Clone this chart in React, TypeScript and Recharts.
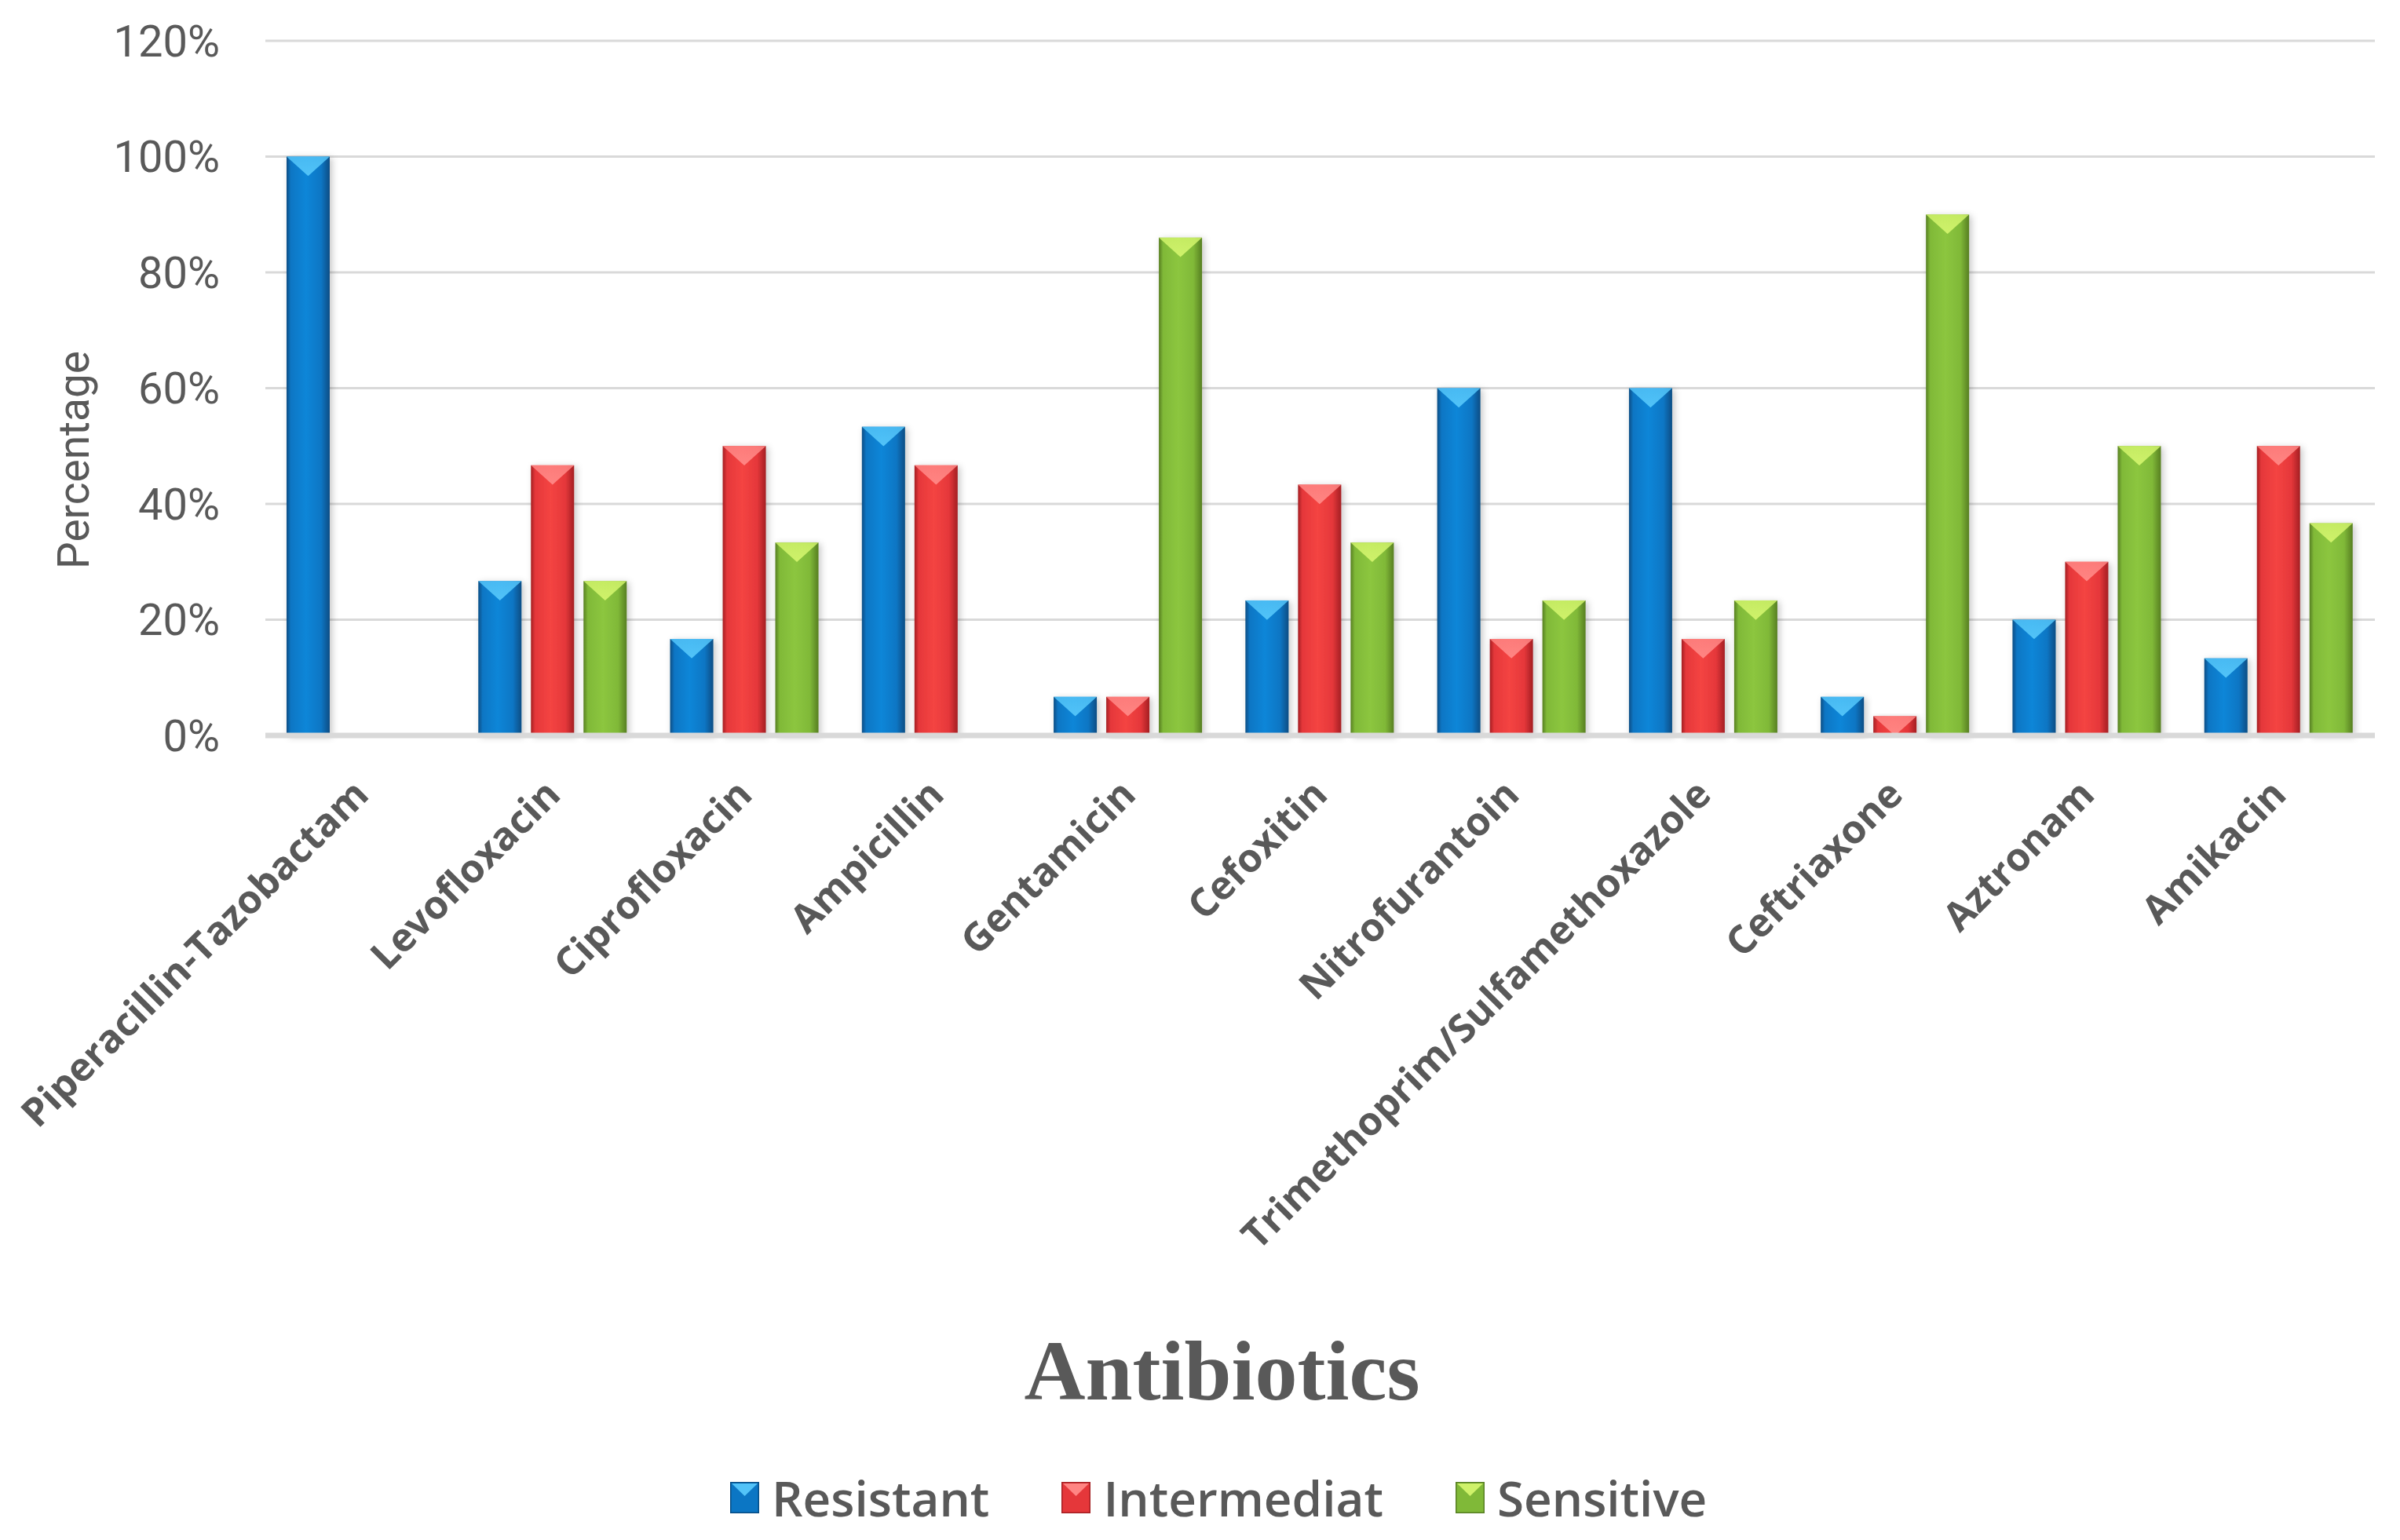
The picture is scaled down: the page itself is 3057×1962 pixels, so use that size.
import { Bar, BarChart, CartesianGrid, Legend, XAxis, YAxis } from "recharts";

const antibiotics = [
  "Piperacillin-Tazobactam",
  "Levofloxacin",
  "Ciprofloxacin",
  "Ampicillin",
  "Gentamicin",
  "Cefoxitin",
  "Nitrofurantoin",
  "Trimethoprim/Sulfamethoxazole",
  "Ceftriaxone",
  "Aztronam",
  "Amikacin",
];
const resistant = [100, 26.67, 16.67, 53.33, 6.67, 23.33, 60, 60, 6.67, 20, 13.33];
const intermediate = [0, 46.67, 50, 46.67, 6.67, 43.33, 16.67, 16.67, 3.33, 30, 50];
const sensitive = [0, 26.67, 33.33, 0, 86, 33.33, 23.33, 23.33, 90, 50, 36.67];
const yTicks = [0, 20, 40, 60, 80, 100, 120];
const seriesNames = ["Resistant", "Intermediat", "Sensitive"];

const data = antibiotics.map((name, i) => ({
  name,
  resistant: resistant[i],
  intermediate: intermediate[i],
  sensitive: sensitive[i],
}));

const palette = {
  blue: { dark: "#074d84", base: "#0b76c4", light: "#0a86d8", tri: "#52c3f8" },
  red: { dark: "#a41f23", base: "#e5373a", light: "#f44442", tri: "#ff8583" },
  green: { dark: "#577f22", base: "#80b938", light: "#8cc63f", tri: "#cff26a" },
};
type Tone = keyof typeof palette;
const tones: Tone[] = ["blue", "red", "green"];

const grey = "#595959";
const axisFont = "Roboto, 'Liberation Sans', sans-serif";

function makeShape(tone: Tone) {
  return (props: any) => {
    const { x, y, width, height } = props;
    if (!height || height <= 0) return <g />;
    const depth = width * 0.45;
    const d = Math.min(depth, height);
    const inset = (width / 2) * (d / depth);
    const tri =
      d < depth
        ? `${x},${y} ${x + width},${y} ${x + width - inset},${y + d} ${x + inset},${y + d}`
        : `${x},${y} ${x + width},${y} ${x + width / 2},${y + d}`;
    return (
      <g filter="url(#barShadow)">
        <rect x={x} y={y} width={width} height={height} fill={`url(#body-${tone})`} />
        <polygon points={tri} fill={`url(#tri-${tone})`} />
      </g>
    );
  };
}

function CategoryTick({ x, y, payload }: any) {
  const ax = x + 12;
  const ay = y + 78;
  return (
    <text
      x={ax}
      y={ay}
      transform={`rotate(-45, ${ax}, ${ay})`}
      textAnchor="end"
      fontFamily="'Open Sans', sans-serif"
      fontWeight={700}
      fontSize={50}
      fill={grey}
    >
      {payload.value}
    </text>
  );
}

function TitleLabel({ viewBox }: any) {
  const cx = viewBox.x + viewBox.width / 2 - 125;
  return (
    <text
      x={cx}
      y={1783}
      textAnchor="middle"
      fontFamily="'Liberation Serif', serif"
      fontWeight={700}
      fontSize={108}
      fill={grey}
    >
      Antibiotics
    </text>
  );
}

function PercentLabel() {
  return (
    <text
      x={113}
      y={586}
      transform="rotate(-90, 113, 586)"
      textAnchor="middle"
      fontFamily={axisFont}
      fontSize={55}
      fill={grey}
    >
      Percentage
    </text>
  );
}

function LegendContent() {
  return (
    <div
      style={{
        display: "flex",
        alignItems: "center",
        fontFamily: "'Open Sans', sans-serif",
        fontWeight: 600,
        fontSize: 62,
        color: grey,
        whiteSpace: "nowrap",
      }}
    >
      {seriesNames.map((name, i) => {
        const p = palette[tones[i]];
        return (
          <div key={name} style={{ display: "flex", alignItems: "center", marginRight: 92 }}>
            <svg width={37} height={40}>
              <rect x={0} y={0} width={37} height={40} fill={p.base} stroke={p.dark} strokeWidth={3} />
              <polygon points="2,2 35,2 18.5,18" fill={p.tri} />
            </svg>
            <span style={{ marginLeft: 16 }}>{name}</span>
          </div>
        );
      })}
    </div>
  );
}

export default function App() {
  return (
    <div style={{ position: "absolute", left: 0, top: 0, width: 3057, height: 1962, background: "#fff" }}>
      <BarChart
        width={3057}
        height={1962}
        data={data}
        margin={{ top: 52, right: 32, bottom: 0, left: 0 }}
        barCategoryGap={27}
        barGap={12}
      >
        <defs>
          {tones.map((t) => {
            const p = palette[t];
            return (
              <linearGradient key={`b-${t}`} id={`body-${t}`} x1="0" y1="0" x2="1" y2="0">
                <stop offset="0" stopColor={p.dark} />
                <stop offset="0.1" stopColor={p.base} />
                <stop offset="0.45" stopColor={p.light} />
                <stop offset="0.8" stopColor={p.base} />
                <stop offset="1" stopColor={p.dark} />
              </linearGradient>
            );
          })}
          {tones.map((t) => {
            const p = palette[t];
            return (
              <linearGradient key={`t-${t}`} id={`tri-${t}`} x1="0" y1="0" x2="0" y2="1">
                <stop offset="0" stopColor={p.tri} stopOpacity={0.85} />
                <stop offset="1" stopColor={p.tri} stopOpacity={1} />
              </linearGradient>
            );
          })}
          <filter id="barShadow" x="-30%" y="-10%" width="160%" height="120%">
            <feDropShadow dx="3" dy="2" stdDeviation="4" floodColor="#000" floodOpacity="0.22" />
          </filter>
        </defs>
        <CartesianGrid vertical={false} stroke="#d9d9d9" strokeWidth={3} />
        <XAxis
          dataKey="name"
          interval={0}
          height={1025}
          tickLine={false}
          tickSize={0}
          tickMargin={0}
          axisLine={{ stroke: "#d9d9d9", strokeWidth: 7 }}
          tick={<CategoryTick />}
          label={<TitleLabel />}
        />
        <YAxis
          width={338}
          domain={[0, 120]}
          ticks={yTicks}
          axisLine={false}
          tickLine={false}
          tickSize={0}
          tickMargin={58}
          tickFormatter={(v: number) => `${v}%`}
          tick={{ fill: grey, fontSize: 56, fontFamily: axisFont }}
          label={<PercentLabel />}
        />
        <Legend
          verticalAlign="middle"
          align="center"
          layout="horizontal"
          content={<LegendContent />}
          wrapperStyle={{ top: 1866, left: 930, width: 1500 }}
        />
        <Bar dataKey="resistant" name={seriesNames[0]} shape={makeShape("blue")} isAnimationActive={false} />
        <Bar dataKey="intermediate" name={seriesNames[1]} shape={makeShape("red")} isAnimationActive={false} />
        <Bar dataKey="sensitive" name={seriesNames[2]} shape={makeShape("green")} isAnimationActive={false} />
      </BarChart>
    </div>
  );
}
